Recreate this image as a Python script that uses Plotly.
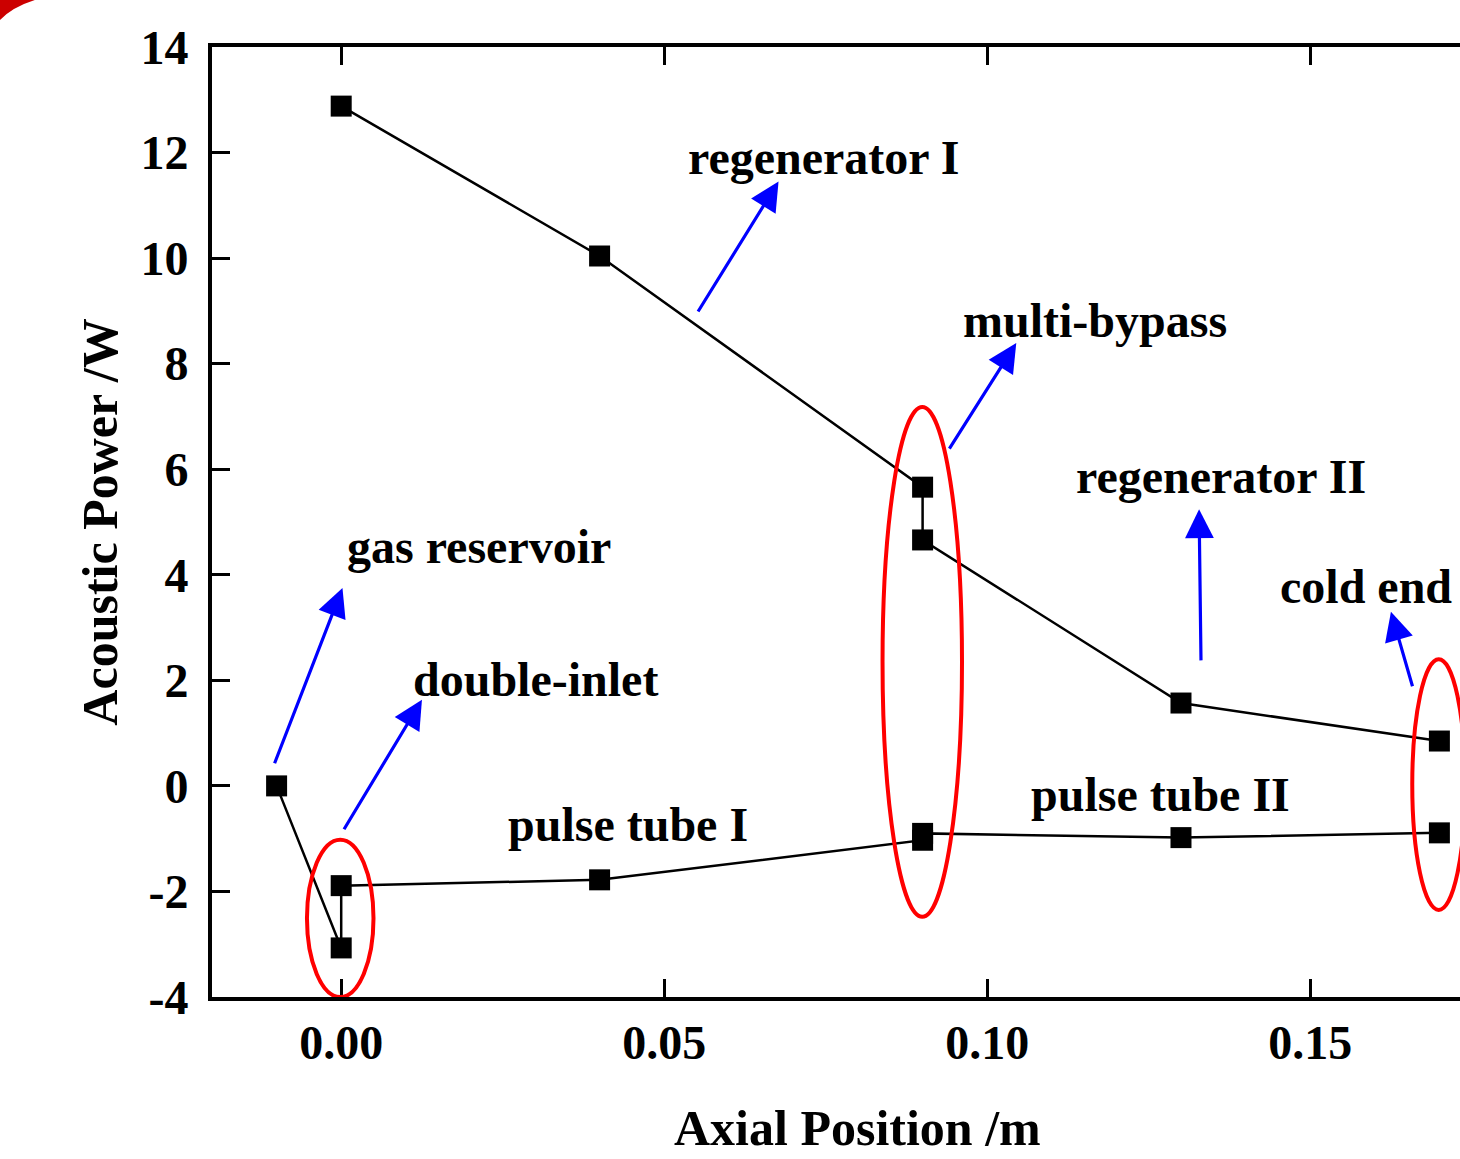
import plotly.graph_objects as go

# ---- data ----
upper_x = [0.0, 0.04, 0.09, 0.09, 0.13, 0.17]
upper_y = [12.88, 10.04, 5.66, 4.66, 1.57, 0.85]

lower_x = [-0.01, 0.0, 0.0, 0.04, 0.09, 0.09, 0.13, 0.17]
lower_y = [0.0, -3.07, -1.89, -1.78, -1.03, -0.90, -0.98, -0.89]

x_ticks = [0.00, 0.05, 0.10, 0.15]
x_tick_labels = ["0.00", "0.05", "0.10", "0.15"]
y_ticks = [-4, -2, 0, 2, 4, 6, 8, 10, 12, 14]
y_tick_labels = ["-4", "-2", "0", "2", "4", "6", "8", "10", "12", "14"]

x_title = "Axial Position /m"
y_title = "Acoustic Power /W"

# labels: (text, x, y)
label_text = ["regenerator I", "multi-bypass", "regenerator II", "cold end",
              "gas reservoir", "double-inlet", "pulse tube I", "pulse tube II"]
label_x = [0.0746, 0.1167, 0.1362, 0.1587, 0.0214, 0.0300, 0.0444, 0.1269]
label_y = [11.90, 8.81, 5.87, 3.77, 4.53, 2.01, -0.74, -0.17]

# arrows: tail -> head
arrow_tail_x = [0.0551, 0.0940, 0.1331, 0.1659, -0.0104, 0.0003]
arrow_tail_y = [8.96, 6.36, 2.35, 1.86, 0.40, -0.85]
arrow_head_x = [0.0677, 0.1045, 0.1328, 0.1625, 0.0002, 0.0125]
arrow_head_y = [11.45, 8.39, 5.24, 3.30, 3.75, 1.63]

# red ellipses (x0, x1, y0, y1)
ell_x0 = [-0.0053, 0.0838, 0.1658]
ell_x1 = [0.0050, 0.0961, 0.1740]
ell_y0 = [-4.0, -2.48, -2.35]
ell_y1 = [-1.02, 7.18, 2.40]

FONT = "Liberation Serif"

fig = go.Figure()
for xs, ys in [(upper_x, upper_y), (lower_x, lower_y)]:
    fig.add_trace(go.Scatter(
        x=xs, y=ys, mode="lines+markers",
        line=dict(color="black", width=2.5),
        marker=dict(symbol="square", size=21, color="black", line=dict(width=0)),
        showlegend=False, cliponaxis=False,
    ))

for t, x, y in zip(label_text, label_x, label_y):
    fig.add_annotation(x=x, y=y, xref="x", yref="y", text=t, showarrow=False,
                       font=dict(family=FONT, size=48, color="black", weight="bold"),
                       xanchor="center", yanchor="middle")

for tx, ty, hx, hy in zip(arrow_tail_x, arrow_tail_y, arrow_head_x, arrow_head_y):
    fig.add_annotation(x=hx, y=hy, ax=tx, ay=ty, xref="x", yref="y", axref="x", ayref="y",
                       text="", showarrow=True, arrowhead=2, arrowsize=1.8,
                       arrowwidth=3.2, arrowcolor="#0000ff", standoff=0, startstandoff=0)

for x0, x1, y0, y1 in zip(ell_x0, ell_x1, ell_y0, ell_y1):
    fig.add_shape(type="circle", xref="x", yref="y", x0=x0, x1=x1, y0=y0, y1=y1,
                  line=dict(color="#ff0000", width=4), fillcolor="rgba(0,0,0,0)", layer="above")

# red arc fragment in the top-left corner of the page
fig.add_shape(type="path", xref="paper", yref="paper",
              path="M -0.1699,1.0495 L -0.1419,1.0495 Q -0.1600,1.0420 -0.1699,1.0284 Z",
              fillcolor="#cc0000", line=dict(width=0), layer="above")

# x-axis title (the original plot frame extends past the right edge, so its title sits right of centre)
fig.add_annotation(x=0.517, y=-0.1379, xref="paper", yref="paper", text=x_title,
                   showarrow=False, xanchor="center", yanchor="middle",
                   font=dict(family=FONT, size=50, color="black", weight="bold"))

fig.update_layout(
    width=1460, height=1159,
    margin=dict(l=212, r=0, t=47, b=162),
    plot_bgcolor="white", paper_bgcolor="white",
    font=dict(family=FONT, size=48, color="black"),
    xaxis=dict(
        range=[-0.02, 0.17319], tickvals=x_ticks, ticktext=x_tick_labels,
        ticks="inside", ticklen=18, tickwidth=3, tickcolor="black",
        showline=True, linewidth=4, linecolor="black", mirror="ticks",
        showgrid=False, zeroline=False,
        tickfont=dict(family=FONT, size=48, weight="bold"),
    ),
    yaxis=dict(
        range=[-4, 14], tickvals=y_ticks, ticktext=y_tick_labels,
        ticks="inside", ticklen=18, tickwidth=3, tickcolor="black",
        showline=True, linewidth=4, linecolor="black", mirror=False,
        showgrid=False, zeroline=False, ticklabelstandoff=10,
        tickfont=dict(family=FONT, size=48, weight="bold"),
        title=dict(text=y_title, font=dict(family=FONT, size=50, weight="bold"), standoff=8),
    ),
)

fig.write_html("out.html")
